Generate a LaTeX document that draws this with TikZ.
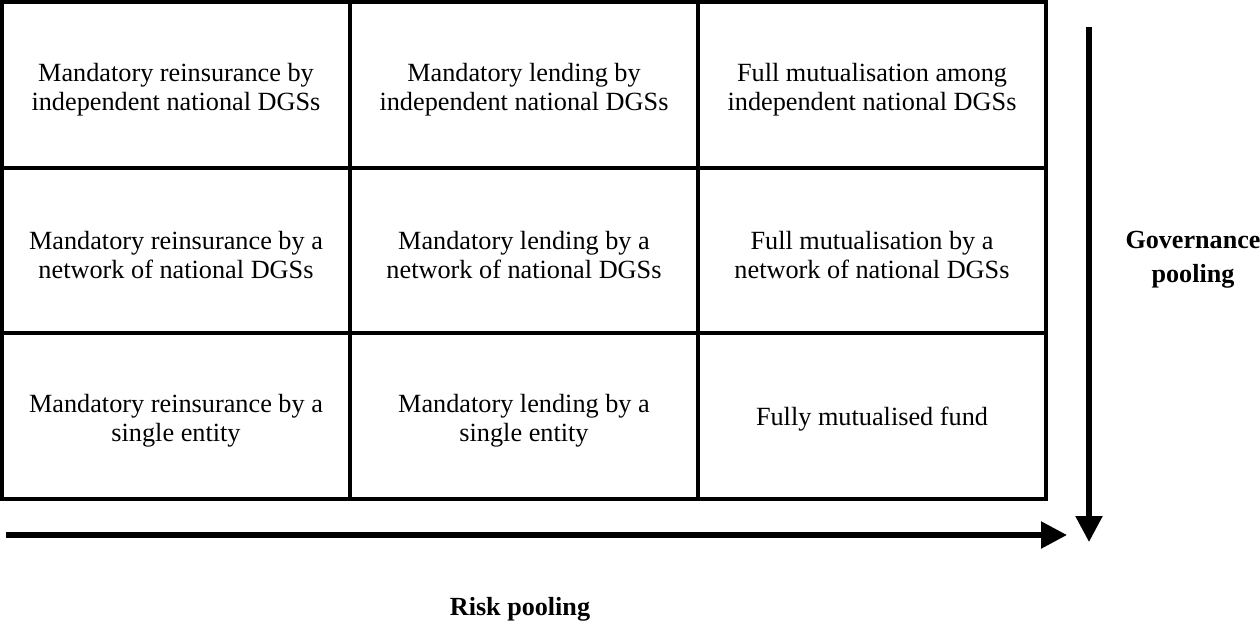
\documentclass[tikz,border=0pt]{standalone}
\usepackage{fontspec}
\setmainfont{Liberation Serif}
\usetikzlibrary{arrows.meta}
\begin{document}
\begin{tikzpicture}[x=0.75pt,y=-0.75pt,
  cellbox/.style={draw=black,line width=2.9pt,minimum width=261pt,minimum height=124.25pt,
    inner sep=0pt,outer sep=0pt},
  celltext/.style={align=center,inner sep=0pt,font=\fontsize{19.7pt}{21.9pt}\selectfont},
  axislabel/.style={inner sep=0pt,anchor=base,font=\fontsize{19.6pt}{21.9pt}\selectfont\bfseries},
  axisarrow/.style={line width=4pt,-{Triangle[length=19.5pt,width=19.5pt]}}]
\useasboundingbox (0,0) rectangle (1260,622);

% 3x3 matrix of options
\foreach \c/\cx in {1/176,2/524,3/872}{
  \foreach \r/\ry in {1/84.8,2/250.5,3/416.2}{
    \node[cellbox] (cell\r\c) at (\cx,\ry) {};
  }
}

\node[celltext] (t11) at (176,89.5) {Mandatory reinsurance by\\independent national DGSs};
\node[celltext] (t12) at (524,89.5) {Mandatory lending by\\independent national DGSs};
\node[celltext] (t13) at (872,89.5) {Full mutualisation among\\independent national DGSs};
\node[celltext] (t21) at (176,255) {Mandatory reinsurance by a\\network of national DGSs};
\node[celltext] (t22) at (524,255) {Mandatory lending by a\\network of national DGSs};
\node[celltext] (t23) at (872,255) {Full mutualisation by a\\network of national DGSs};
\node[celltext] (t31) at (176,420.7) {Mandatory reinsurance by a\\single entity};
\node[celltext] (t32) at (524,420.7) {Mandatory lending by a\\single entity};
\node[celltext] (t33) at (872,419.5) {Fully mutualised fund};

% axes
\coordinate (hstart) at (6,535);
\coordinate (hend) at (1067,535);
\coordinate (vstart) at (1089,27);
\coordinate (vend) at (1089,542);
\draw[axisarrow] (hstart) -- (hend);
\draw[axisarrow] (vstart) -- (vend);

\node[axislabel] (gov1) at (1193,248) {Governance};
\node[axislabel] (gov2) at (1193,282) {pooling};
\node[axislabel] (risk) at (520,615) {Risk pooling};
\end{tikzpicture}
\end{document}
